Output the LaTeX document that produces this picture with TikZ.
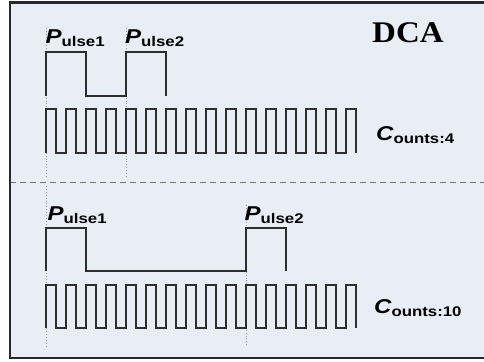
\documentclass[tikz,border=0pt]{standalone}
\usepackage{fontspec}
\usepackage{tikz}
\newfontfamily\labfont[FakeStretch=1.2]{Liberation Sans}
\newfontfamily\titlefont[FakeStretch=1.1]{Liberation Serif}
\definecolor{panelbg}{RGB}{233,238,246}
\definecolor{wavecol}{RGB}{45,45,45}
\definecolor{framecol}{RGB}{40,40,40}
\tikzset{
	wave/.style={line width=1.8pt, color=wavecol, line join=miter},
	guide/.style={line width=0.9pt, color=black!40, dotted},
	split/.style={line width=1pt, color=black!55, dash pattern=on 6pt off 4pt},
	lab/.style={anchor=base west, inner sep=0pt, text=black}
}
\def\wavelabel#1#2{{\labfont\fontsize{20}{20}\selectfont\bfseries\itshape #1}{\labfont\fontsize{14}{14}\selectfont\bfseries\raisebox{-3.5pt}{#2}}}

\begin{document}
\begin{tikzpicture}[x=1pt, y=-1pt]
			%%%%% START %%%%%
			
			\useasboundingbox (0, 0) rectangle (484, 361);
			\clip (0, 0) rectangle (484, 361);
			
			\fill[panelbg] (10, 2.5) rectangle (500, 358);
			
			% guides
			\draw[guide] (46, 28) -- (46, 177);
			\draw[guide] (126, 28) -- (126, 177);
			\draw[guide] (46, 186) -- (46, 347);
			\draw[guide] (246, 205) -- (246, 347);
			
			% upper pulses
			\draw[wave] (46, 96) -- (46, 52) -- (86, 52) -- (86, 96) -- (126, 96)
				-- (126, 52) -- (166, 52) -- (166, 96);
			
			% upper clock
			\draw[wave] (46, 153) \foreach \k in {0,...,14}{ -- ++(0, -44) -- ++(10, 0) -- ++(0, 44) -- ++(10, 0)}
				-- ++(0, -44) -- ++(10, 0) -- ++(0, 44);
			
			\draw[split] (10, 182) -- (484, 182);
			
			% lower pulses
			\draw[wave] (46, 271) -- (46, 228) -- (86, 228) -- (86, 271) -- (246, 271)
				-- (246, 228) -- (286, 228) -- (286, 271);
			
			% lower clock
			\draw[wave] (46, 328) \foreach \k in {0,...,14}{ -- ++(0, -43) -- ++(10, 0) -- ++(0, 43) -- ++(10, 0)}
				-- ++(0, -43) -- ++(10, 0) -- ++(0, 43);
			
			\node[lab] (title) at (372, 43) {\titlefont\fontsize{30}{30}\selectfont\bfseries DCA};
			
			\node[lab] (upperP1) at (45.5, 43.5) {\wavelabel{P}{ulse1}};
			\node[lab] (upperP2) at (125, 43.5) {\wavelabel{P}{ulse2}};
			\node[lab] (upperC) at (376, 140) {\wavelabel{C}{ounts:4}};
			
			\node[lab] (lowerP1) at (47.5, 220) {\wavelabel{P}{ulse1}};
			\node[lab] (lowerP2) at (244.5, 220) {\wavelabel{P}{ulse2}};
			\node[lab] (lowerC) at (374, 313) {\wavelabel{C}{ounts:10}};
			
			\draw[line width=2.5pt, color=framecol] (10, 2.5) rectangle (500, 358);
			
			%%%%% END %%%%%
		\end{tikzpicture}
\end{document}
